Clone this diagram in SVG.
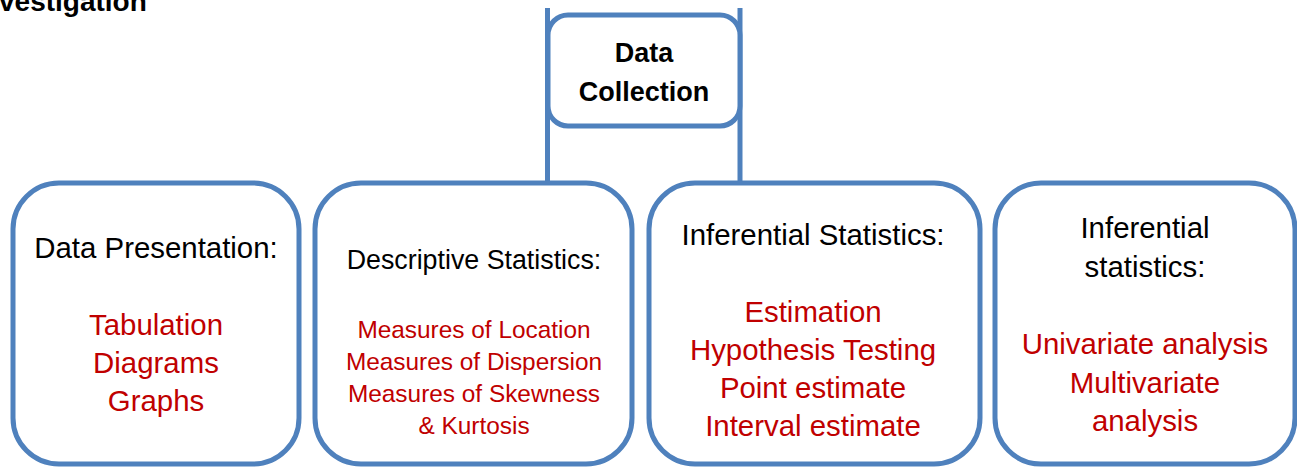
<svg xmlns="http://www.w3.org/2000/svg" width="1297" height="468" viewBox="0 0 1297 468">
<style>
.box{fill:#fff;stroke:#4F81BD;stroke-width:5}
.conn{fill:none;stroke:#4F81BD;stroke-width:5}
text{font-family:"Liberation Sans",Arial,sans-serif;text-anchor:middle}
.h{font-size:29.4px;fill:#000}
.hs{font-size:26.8px;fill:#000}
.r{font-size:29.4px;fill:#C00000}
.rs{font-size:24.4px;fill:#C00000}
.b{font-size:27px;font-weight:bold;fill:#000}
</style>
<rect width="1297" height="468" fill="#fff"/>
<text x="-1" y="11" style="text-anchor:start;font-size:28px;font-weight:bold">vestigation</text>
<g id="connectors">
<line class="conn" x1="547.5" y1="8" x2="547.5" y2="183"/>
<line class="conn" x1="740" y1="8" x2="740" y2="183"/>
</g>
<g id="data-collection">
<rect class="box" x="548" y="15" width="192" height="111" rx="20"/>
<text class="b" x="644" y="62">Data</text>
<text class="b" x="644" y="101">Collection</text>
</g>
<g id="data-presentation">
<rect class="box" x="13" y="183" width="286" height="281" rx="46"/>
<text class="h" x="156" y="258">Data Presentation:</text>
<text class="r" x="156" y="335">Tabulation</text>
<text class="r" x="156" y="373">Diagrams</text>
<text class="r" x="156" y="411">Graphs</text>
</g>
<g id="descriptive-statistics">
<rect class="box" x="315" y="183" width="317" height="281" rx="46"/>
<text class="hs" x="474" y="269">Descriptive Statistics:</text>
<text class="rs" x="474" y="338">Measures of Location</text>
<text class="rs" x="474" y="370">Measures of Dispersion</text>
<text class="rs" x="474" y="402">Measures of Skewness</text>
<text class="rs" x="474" y="434">&amp; Kurtosis</text>
</g>
<g id="inferential-statistics">
<rect class="box" x="649" y="183" width="331" height="281" rx="46"/>
<text class="h" x="813" y="245">Inferential Statistics:</text>
<text class="r" x="813" y="322">Estimation</text>
<text class="r" x="813" y="360">Hypothesis Testing</text>
<text class="r" x="813" y="398">Point estimate</text>
<text class="r" x="813" y="436">Interval estimate</text>
</g>
<g id="inferential-statistics-2">
<rect class="box" x="995" y="183" width="300" height="281" rx="46"/>
<text class="h" x="1145" y="238">Inferential</text>
<text class="h" x="1145" y="277">statistics:</text>
<text class="r" x="1145" y="354">Univariate analysis</text>
<text class="r" x="1145" y="393">Multivariate</text>
<text class="r" x="1145" y="431">analysis</text>
</g>
</svg>
